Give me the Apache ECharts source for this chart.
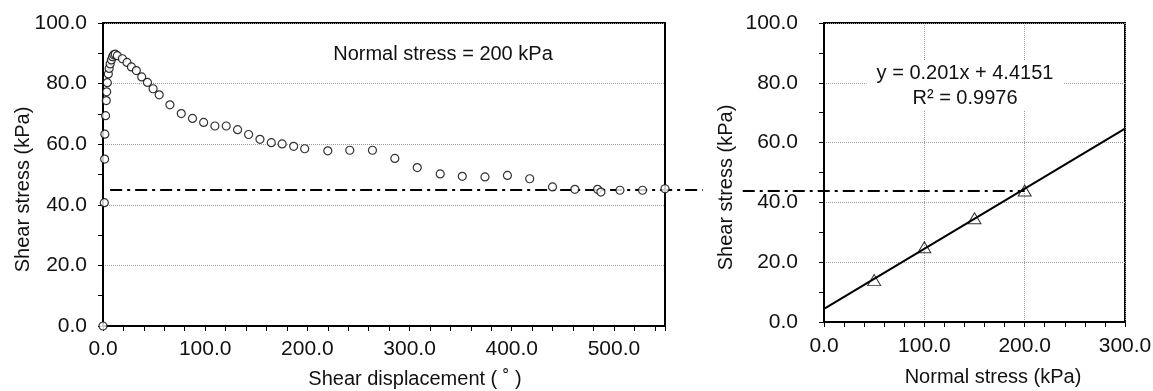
<!DOCTYPE html>
<html>
<head>
  <meta charset="utf-8" />
  <title>Shear stress</title>
  <script src="https://cdn.jsdelivr.net/npm/echarts@6/dist/echarts.min.js"></script>
</head>
<body style="margin:0;">
  <div id="main" style="width:1153px;height:391px;"></div>
  <script type="text/javascript">

    // Shear displacement vs shear stress (normal stress = 200 kPa)
    let dispX = [0, 1.3, 1.6, 1.8, 2.5, 3.2, 3.6, 4.2, 5.2, 6.0,
      7.0, 8.2, 9.3, 10.5, 12.0, 14.0, 19.0, 23.5, 27.8, 32.6,
      37.9, 43.5, 49.0, 55.0, 65.5, 76.6, 87.6, 98.5, 109.5, 120.6,
      131.7, 142.5, 153.6, 164.7, 175.3, 186.6, 197.4, 220.0, 241.5, 263.7,
      285.6, 307.5, 330.0, 351.6, 373.8, 395.8, 417.6, 439.9, 461.8, 484.0,
      487.3, 505.9, 528.0, 550.0];
    let shearY = [0, 40.7, 55.1, 63.3, 69.4, 74.4, 77.3, 80.3, 83.2, 85.0,
      86.5, 87.8, 88.9, 89.5, 89.7, 89.2, 88.2, 87.0, 85.5, 84.3,
      82.2, 80.4, 78.3, 76.3, 73.0, 70.1, 68.5, 67.2, 66.0, 66.0,
      64.8, 63.2, 61.6, 60.5, 60.1, 59.3, 58.5, 57.8, 58.0, 58.0,
      55.3, 52.3, 50.2, 49.4, 49.2, 49.7, 48.6, 45.9, 45.1, 45.1,
      44.2, 44.8, 44.8, 45.3];

    // Failure envelope
    let normalX = [50, 100, 150, 200];
    let peakY = [14.0, 25.0, 34.7, 44.0];
    let fitX = [0, 300];
    let fitY = [4.4, 64.7];

    // Residual strength reference line (dash-dot), runs across both panels
    let residualLeftX = [7, 587];
    let residualLeftY = [45, 45];
    let residualRightX = [-81, 200];
    let residualRightY = [44, 44];

    let fontFamily = '"Liberation Sans", Arial, sans-serif';

    var chart = echarts.init(document.getElementById('main'));

    function pairs(xs, ys) {
      return xs.map(function (x, i) { return [x, ys[i]]; });
    }

    var gridLine = { show: true, lineStyle: { color: '#9a9a9a', type: 'dotted', width: 1 } };
    var blackLine = { show: true, onZero: false, lineStyle: { color: '#000', width: 2 } };
    var tick = { show: true, length: 5, lineStyle: { color: '#000', width: 1 } };
    var labelStyle = function (margin) {
      return {
        margin: margin,
        color: '#111',
        fontSize: 21,
        fontFamily: fontFamily,
        formatter: function (v) { return v.toFixed(1); }
      };
    };
    var nameStyle = function (padding) {
      return { color: '#111', fontSize: 20, fontFamily: fontFamily, padding: padding };
    };

    var option = {
      animation: false,
      grid: [
        {
          left: 103, top: 23, width: 562, height: 303,
          show: true, borderColor: '#000', borderWidth: 2,
          outerBoundsMode: 'none'
        },
        {
          left: 824, top: 23, width: 301, height: 299,
          show: true, borderColor: '#000', borderWidth: 2,
          outerBoundsMode: 'none'
        }
      ],
      xAxis: [
        {
          gridIndex: 0,
          type: 'value',
          min: 0,
          max: 550,
          interval: 100,
          name: 'Shear displacement ( ˚ )',
          nameLocation: 'middle',
          nameGap: 43,
          nameMoveOverlap: false,
          nameTextStyle: nameStyle([0, 0, 0, 62]),
          axisLine: blackLine,
          axisTick: tick,
          minorTick: { show: true, splitNumber: 5, length: 5, lineStyle: { color: '#000', width: 1 } },
          axisLabel: Object.assign(labelStyle(13), { showMaxLabel: false }),
          splitLine: { show: false }
        },
        {
          gridIndex: 1,
          type: 'value',
          min: 0,
          max: 300,
          interval: 100,
          name: 'Normal stress (kPa)',
          nameLocation: 'middle',
          nameGap: 45,
          nameMoveOverlap: false,
          nameTextStyle: nameStyle([0, 0, 0, 37]),
          axisLine: blackLine,
          axisTick: tick,
          minorTick: { show: true, splitNumber: 5, length: 5, lineStyle: { color: '#000', width: 1 } },
          axisLabel: labelStyle(14),
          splitLine: gridLine
        }
      ],
      yAxis: [
        {
          gridIndex: 0,
          type: 'value',
          min: 0,
          max: 100,
          interval: 20,
          name: 'Shear stress (kPa)',
          nameLocation: 'middle',
          nameGap: 70,
          nameMoveOverlap: false,
          nameTextStyle: nameStyle([0, 30, 0, 0]),
          axisLine: blackLine,
          axisTick: tick,
          minorTick: { show: true, splitNumber: 2, length: 5, lineStyle: { color: '#000', width: 1 } },
          axisLabel: labelStyle(16),
          splitLine: gridLine
        },
        {
          gridIndex: 1,
          type: 'value',
          min: 0,
          max: 100,
          interval: 20,
          name: 'Shear stress (kPa)',
          nameLocation: 'middle',
          nameGap: 88,
          nameMoveOverlap: false,
          nameTextStyle: nameStyle([0, 30, 0, 0]),
          axisLine: blackLine,
          axisTick: tick,
          minorTick: { show: true, splitNumber: 2, length: 5, lineStyle: { color: '#000', width: 1 } },
          axisLabel: labelStyle(26),
          splitLine: gridLine
        }
      ],
      series: [
        {
          name: 'Residual strength',
          type: 'lines',
          coordinateSystem: 'cartesian2d',
          xAxisIndex: 0,
          yAxisIndex: 0,
          clip: false,
          silent: true,
          lineStyle: { color: '#000', width: 2, opacity: 1, type: [12, 5, 3, 5] },
          data: [{ coords: pairs(residualLeftX, residualLeftY) }],
          z: 1
        },
        {
          name: 'Residual strength (envelope)',
          type: 'lines',
          coordinateSystem: 'cartesian2d',
          xAxisIndex: 1,
          yAxisIndex: 1,
          clip: false,
          silent: true,
          lineStyle: { color: '#000', width: 2, opacity: 1, type: [12, 5, 3, 5] },
          data: [{ coords: pairs(residualRightX, residualRightY) }],
          z: 1
        },
        {
          name: 'Shear stress',
          type: 'scatter',
          xAxisIndex: 0,
          yAxisIndex: 0,
          clip: false,
          symbol: 'circle',
          symbolSize: 8,
          itemStyle: { color: '#fff', borderColor: '#000', borderWidth: 1.2 },
          data: pairs(dispX, shearY),
          z: 3
        },
        {
          name: 'Linear fit',
          type: 'line',
          xAxisIndex: 1,
          yAxisIndex: 1,
          showSymbol: false,
          lineStyle: { color: '#000', width: 2 },
          data: pairs(fitX, fitY),
          z: 2
        },
        {
          name: 'Peak shear stress',
          type: 'scatter',
          xAxisIndex: 1,
          yAxisIndex: 1,
          symbol: 'triangle',
          symbolSize: [13, 11],
          itemStyle: { color: 'rgba(255,255,255,0)', borderColor: '#000', borderWidth: 1 },
          data: pairs(normalX, peakY),
          z: 3
        }
      ],
      graphic: [
        {
          type: 'text',
          x: 443,
          y: 54,
          style: {
            text: 'Normal stress = 200 kPa',
            font: '20px ' + fontFamily,
            fill: '#111',
            align: 'center',
            verticalAlign: 'middle'
          }
        },
        {
          type: 'text',
          x: 965,
          y: 86,
          z: 10,
          style: {
            text: 'y = 0.201x + 4.4151\nR² = 0.9976',
            font: '20px ' + fontFamily,
            fill: '#111',
            align: 'center',
            verticalAlign: 'middle',
            lineHeight: 25,
            backgroundColor: '#fff',
            padding: [0, 10, 0, 10]
          }
        }
      ]
    };

    chart.setOption(option);
  </script>
</body>
</html>
